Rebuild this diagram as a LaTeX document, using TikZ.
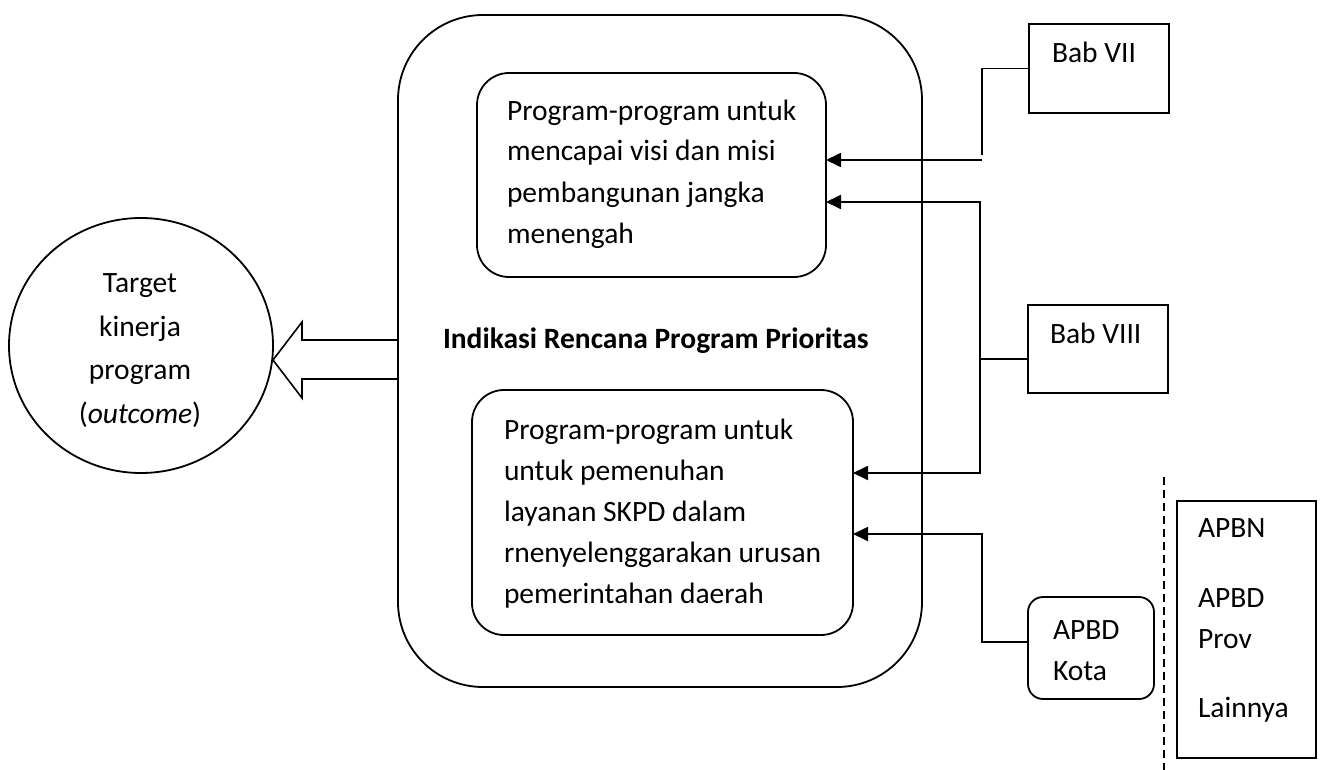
\documentclass[tikz,border=0pt]{standalone}
\usepackage{fontspec}
\setmainfont{Carlito}
\usetikzlibrary{arrows.meta,shapes.geometric,calc}
\begin{document}
\begin{tikzpicture}[x=1pt,y=-1pt,
  every node/.style={inner sep=0pt,outer sep=0pt},
  box/.style={draw,line width=1.8pt},
  txt/.style={font=\fontsize{29.5}{41}\selectfont,align=left,anchor=base west},
  line/.style={line width=1.8pt},
  arr/.style={line width=1.8pt,-{Triangle[length=15pt,width=14pt]}},
  both/.style={line width=1.8pt,{Triangle[length=15pt,width=14pt]}-{Triangle[length=15pt,width=14pt]}}]
\useasboundingbox (0,0) rectangle (1324,770);
% boxes
\node[box,rounded corners=85pt,minimum width=524pt,minimum height=672pt] (outer) at (660,351) {};
\node[box,rounded corners=32pt,minimum width=349pt,minimum height=204pt] (up) at (651.5,175) {};
\node[box,rounded corners=32pt,minimum width=381pt,minimum height=245pt] (low) at (662.5,512.5) {};
\node[box,minimum width=140pt,minimum height=89pt] (b7) at (1099,68.5) {};
\node[box,minimum width=140pt,minimum height=88pt] (b8) at (1098,349) {};
\node[box,rounded corners=15pt,minimum width=126pt,minimum height=102pt] (kota) at (1091,648) {};
\node[box,minimum width=139pt,minimum height=257pt] (apbn) at (1246.5,629.5) {};
\node[box,ellipse,minimum width=264pt,minimum height=255pt] (target) at (141,345.5) {};
% texts (anchored at the baseline of the last line)
\node[txt] (uptext) at (507,243) {Program-program untuk\\mencapai visi dan misi\\pembangunan jangka\\menengah};
\node[txt] (lowtext) at (504,603) {Program-program untuk\\untuk pemenuhan\\layanan SKPD dalam\\rnenyelenggarakan urusan\\pemerintahan daerah};
\node[txt,font=\fontsize{29.5}{41}\selectfont\bfseries] (label) at (443,348) {Indikasi Rencana Program Prioritas};
\node[txt] (b7text) at (1052,63) {Bab VII};
\node[txt] (b8text) at (1050,343) {Bab VIII};
\node[txt] (kotatext) at (1053,680) {APBD\\Kota};
\node[txt] (apbntext) at (1198,717) {APBN\\[29pt]APBD\\Prov\\[28pt]Lainnya};
\node[txt,align=center,anchor=base,font=\fontsize{29.5}{43.5}\selectfont] (targettext) at (140,423) {Target\\kinerja\\program\\(\textit{outcome})};
% block arrow
\draw[line width=1.6pt,line join=miter] (outer.west |- 0,340) -- (302,340) -- (302,322) -- (target.east |- 0,360) -- (302,398) -- (302,379) -- (outer.west |- 0,379);
% connectors
\coordinate (j7) at (982,155);
\coordinate (s7) at (982,160);
\draw[line] (b7.west) -| (j7);
\draw[arr] (s7) -- (s7 -| up.east);
\coordinate (t1) at (980,202);
\coordinate (t2) at (980,473);
\draw[both] (t1 -| up.east) -- (t1) -- (t2) -- (t2 -| low.east);
\draw[line] ([yshift=-10pt]b8.west) -- ([yshift=-10pt]b8.west -| t1);
\coordinate (k1) at (982,534);
\draw[arr] ([yshift=6pt]kota.west) -| (k1) -- (k1 -| low.east);
\coordinate (d1) at (1164,477);
\coordinate (d2) at (1164,770);
\draw[line,dash pattern=on 8pt off 5pt] (d1) -- (d2);
\end{tikzpicture}
\end{document}
